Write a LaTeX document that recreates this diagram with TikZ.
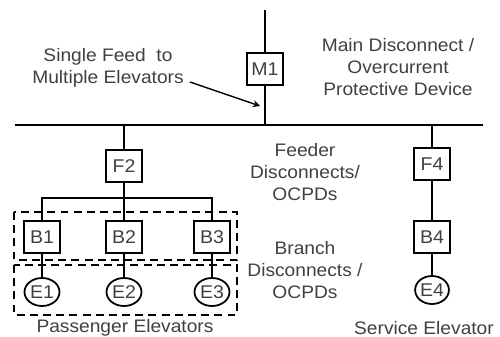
\documentclass[tikz,border=0pt]{standalone}
\usepackage{fontspec}
\setmainfont{Liberation Sans}[FakeStretch=1.06]
\usetikzlibrary{shapes.geometric}

\tikzset{
    dev/.style={draw, line width=1pt, minimum width=0.72cm, minimum height=0.64cm, inner sep=0pt, text=black!75},
    elev/.style={draw, ellipse, line width=1pt, minimum width=0.7cm, minimum height=0.56cm, inner sep=0pt, text=black!75},
    wire/.style={line width=1.1pt},
    grp/.style={line width=0.9pt, dash pattern=on 4.5pt off 3pt},
    lbl/.style={align=center, text=black!75, font=\fontsize{10.3}{12.5}\selectfont}
}

\begin{document}
\begin{tikzpicture}[x=0.02cm, y=-0.02cm, font=\fontsize{10.5}{12}\selectfont]
    \useasboundingbox (0,0) rectangle (500,337);

    % Main device on the incoming feed
    \coordinate (top) at (265,10);
    \node[dev] (M1) at (265,69) {M1};
    \coordinate (tapM) at (265,125);
    \draw[wire] (top) -- (M1) -- (tapM);

    % Bus
    \coordinate (busL) at (15,125);
    \coordinate (busR) at (483,125);
    \draw[wire] (busL) -- (busR);

    % Labels top
    \node[lbl] (single) at (108,68) {Single Feed\ \ to\\Multiple Elevators};
    \node[lbl] (main) at (398,67) {Main Disconnect /\\Overcurrent\\Protective Device};
    \coordinate (arrowtip) at (260,106);
    \draw[wire, line width=0.8pt, -stealth] (single.east |- 0,82) -- (arrowtip);

    % Feeder to passenger elevators
    \coordinate (tapF2) at (124,125);
    \node[dev] (F2) at (124,166) {F2};
    \coordinate (split) at (124,198);
    \draw[wire] (tapF2) -- (F2) -- (split);

    % Branch devices and elevators
    \node[dev] (B1) at (42,237) {B1};
    \node[dev] (B2) at (124,237) {B2};
    \node[dev] (B3) at (212,237) {B3};
    \node[elev] (E1) at (42,292) {E1};
    \node[elev] (E2) at (124,292) {E2};
    \node[elev] (E3) at (212,292) {E3};
    \draw[wire] (B1.north) |- (split) -| (B3.north);
    \draw[wire] (split) -- (B2);
    \foreach \i in {1,2,3}
        \draw[wire] (B\i) -- (E\i);

    % Dashed groups
    \draw[grp] (14,212) rectangle (237,260);
    \draw[grp] (14,265) rectangle (237,315);
    \node[lbl] (pass) at (125,328) {Passenger Elevators};

    % Service elevator
    \coordinate (tapF4) at (432,125);
    \node[dev] (F4) at (432,164) {F4};
    \node[dev] (B4) at (432,237) {B4};
    \node[elev, minimum width=0.64cm] (E4) at (432,290) {E4};
    \draw[wire] (tapF4) -- (F4) -- (B4) -- (E4);
    \node[lbl] (serv) at (424,328) {Service Elevator};

    % Level labels
    \node[lbl] (feeder) at (305,172) {Feeder\\Disconnects/\\OCPDs};
    \node[lbl] (branch) at (305,270) {Branch\\Disconnects /\\OCPDs};
\end{tikzpicture}
\end{document}
